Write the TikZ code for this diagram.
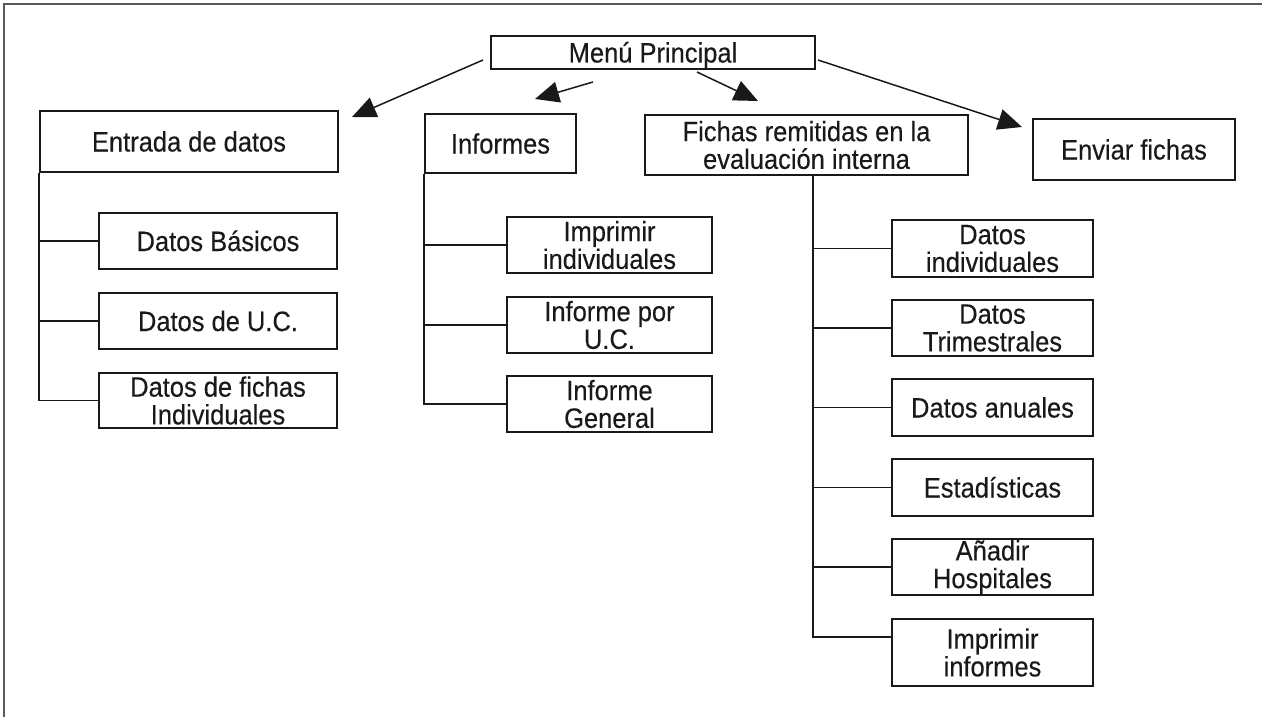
\documentclass[tikz,border=0pt]{standalone}
\usepackage{fontspec}
\setmainfont{Liberation Sans}[FakeStretch=0.91,FakeBold=0.3]
\usetikzlibrary{arrows.meta}
\begin{document}
\begin{tikzpicture}[x=1pt,y=-1pt,
  box/.style={draw=black!90,line width=1.7pt,inner sep=0pt,align=center,
    font=\fontsize{28}{27.7}\selectfont,text=black!90},
  one/.style={text height=20pt,text depth=0pt},
  sz/.style 2 args={minimum width=#1pt,minimum height=#2pt},
  conn/.style={draw=black!90,line width=1.7pt},
  arr/.style={draw=black!90,line width=1.5pt,-{Triangle[length=24pt,width=21pt]}},
  frame/.style={draw=black!65,line width=2pt}]
\useasboundingbox (0,0) rectangle (1262,717);
\draw[frame] (4,717) -- (4,4) -- (1262,4);

% top level
\node[box,one,sz={324}{33}] (menu) at (653,52.5) {Menú Principal};
\node[box,one,sz={298}{61}] (entrada) at (189,141.5) {Entrada de datos};
\node[box,one,sz={151}{59}] (informes) at (500.5,143.5) {Informes};
\node[box,sz={323}{60}] (fichas) at (806.5,145) {Fichas remitidas en la\\evaluación interna};
\node[box,one,sz={202}{61}] (enviar) at (1134,149.5) {Enviar fichas};

% Entrada de datos children
\node[box,one,sz={238}{56}] (basicos) at (218,241) {Datos Básicos};
\node[box,one,sz={238}{56}] (uc) at (218,321) {Datos de U.C.};
\node[box,sz={238}{55}] (fichasind) at (218,400.5) {Datos de fichas\\Individuales};

% Informes children
\node[box,sz={205}{56}] (impind) at (609.5,245) {Imprimir\\individuales};
\node[box,sz={205}{56}] (infuc) at (609.5,325) {Informe por\\U.C.};
\node[box,sz={205}{56}] (infgen) at (609.5,404) {Informe\\General};

% Fichas children
\node[box,sz={201}{57}] (dind) at (992.5,248.5) {Datos\\individuales};
\node[box,sz={201}{56}] (dtri) at (992.5,328) {Datos\\Trimestrales};
\node[box,one,sz={201}{57}] (danu) at (992.5,407.5) {Datos anuales};
\node[box,one,sz={201}{57}] (est) at (992.5,487.5) {Estadísticas};
\node[box,sz={201}{56}] (hosp) at (992.5,567) {Añadir\\Hospitales};
\node[box,sz={201}{67}] (impinf) at (992.5,652.5) {Imprimir\\informes};

% arrows from the main menu
\coordinate (a1s) at (483,60);   \coordinate (a1e) at (352,117);
\coordinate (a2s) at (593,82);   \coordinate (a2e) at (535,99);
\coordinate (a3s) at (697,72);   \coordinate (a3e) at (758,101);
\coordinate (a4s) at (818,60);   \coordinate (a4e) at (1022,127);
\draw[arr] (a1s) -- (a1e);
\draw[arr] (a2s) -- (a2e);
\draw[arr] (a3s) -- (a3e);
\draw[arr] (a4s) -- (a4e);

% tree connectors
\draw[conn] (entrada.south west) |- (basicos.west);
\draw[conn] (entrada.south west) |- (uc.west);
\draw[conn] (entrada.south west) |- (fichasind.west);

\draw[conn] (informes.south west) |- (impind.west);
\draw[conn] (informes.south west) |- (infuc.west);
\draw[conn] (informes.south west) |- (infgen.west);

\coordinate (ft) at ([xshift=6.5pt]fichas.south);
\draw[conn] (ft) |- (dind.west);
\draw[conn] (ft) |- (dtri.west);
\draw[conn] (ft) |- (danu.west);
\draw[conn] (ft) |- (est.west);
\draw[conn] (ft) |- (hosp.west);
\draw[conn] (ft) |- ([yshift=15.5pt]impinf.west);
\end{tikzpicture}
\end{document}
